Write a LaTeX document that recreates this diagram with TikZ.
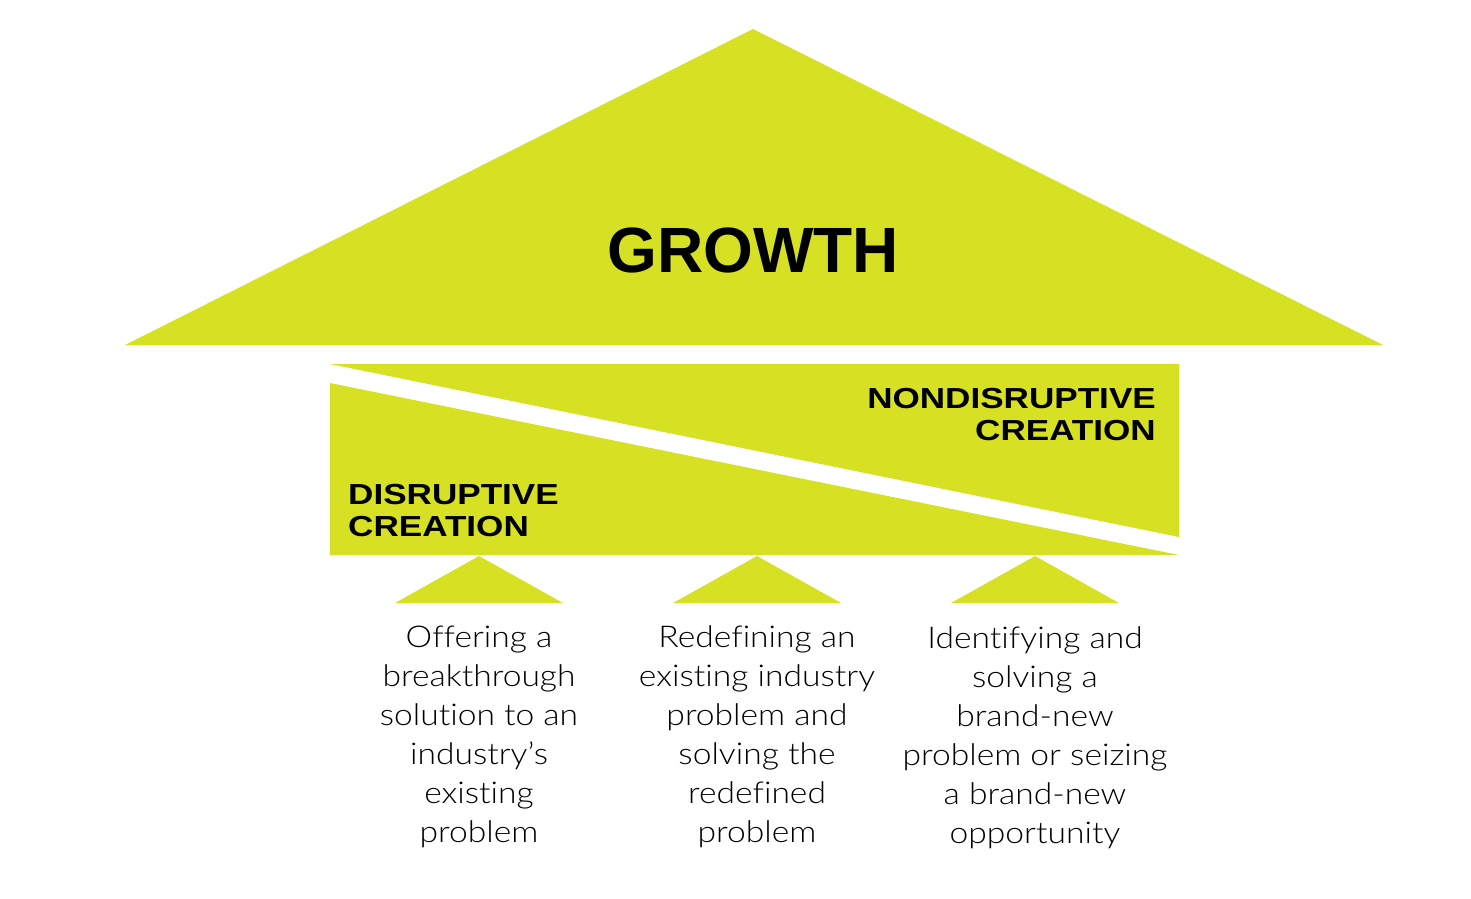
\documentclass[tikz,border=0pt]{standalone}
\usepackage{fontspec}
\setmainfont{Liberation Sans}
\newfontfamily\bodyfont[FakeStretch=1.12,Ligatures=NoCommon]{Lato Light}
\newfontfamily\headfont{Liberation Sans Bold}
\newfontfamily\widefont[FakeStretch=1.21]{Liberation Sans Bold}
\definecolor{lime}{RGB}{215,225,35}
\begin{document}
\begin{tikzpicture}[x=1pt,y=-1pt,
  shapefill/.style={fill=lime,draw=none},
  bodytext/.style={anchor=north,inner sep=0pt,align=center,font=\bodyfont\fontsize{30}{39}\selectfont},
  labeltext/.style={inner sep=0pt,font=\widefont\fontsize{29}{32}\selectfont}]
\useasboundingbox (0,0) rectangle (1471,898);
% roof
\fill[shapefill] (125,345) -- (753,29) -- (1383,345) -- cycle;
% split block
\fill[shapefill] (330,364) -- (1179,364) -- (1179,537) -- cycle;
\fill[shapefill] (330,383) -- (1179,555) -- (330,555) -- cycle;
% small triangles
\fill[shapefill] (395,603) -- (479,556) -- (563,603) -- cycle;
\fill[shapefill] (673,603) -- (757,556) -- (841,603) -- cycle;
\fill[shapefill] (951,603) -- (1035,556) -- (1119,603) -- cycle;
% labels
\node[anchor=base,inner sep=0pt,font=\headfont\fontsize{64}{70}\selectfont] (growth) at (753,272) {GROWTH};
\node[labeltext,anchor=base east] (nd1) at (1156,408) {NONDISRUPTIVE};
\node[labeltext,anchor=base east] (nd2) at (1156,440) {CREATION};
\node[labeltext,anchor=base west] (d1) at (348,504) {DISRUPTIVE};
\node[labeltext,anchor=base west] (d2) at (348,536) {CREATION};
% texts
\node[bodytext] (c1) at (479,620) {\strut Offering a\\breakthrough\\solution to an\\industry’s\\existing\\problem};
\node[bodytext] (c2) at (757,620) {\strut Redefining an\\existing industry\\problem and\\solving the\\redefined\\problem};
\node[bodytext] (c3) at (1035,621) {\strut Identifying and\\solving a\\brand-new\\problem or seizing\\a brand-new\\opportunity};
\end{tikzpicture}
\end{document}
